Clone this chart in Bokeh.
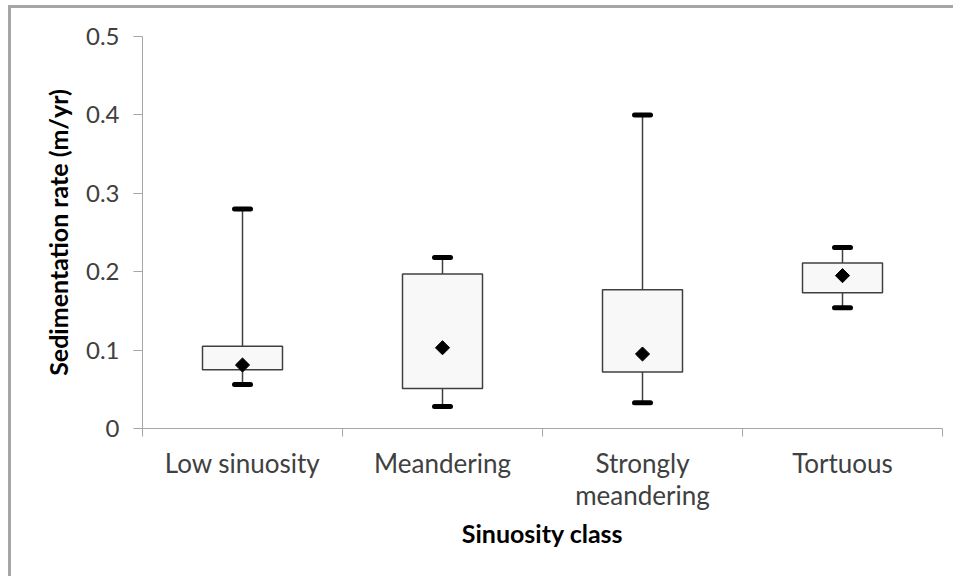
import math
from bokeh.plotting import figure
from bokeh.models import Range1d, FixedTicker, ColumnDataSource
from bokeh.embed import file_html
from bokeh.resources import INLINE

# ---- data ----
categories = ["Low sinuosity", "Meandering", "Strongly\nmeandering", "Tortuous"]
whisker_min = [0.056, 0.028, 0.033, 0.154]
q1 = [0.075, 0.051, 0.072, 0.173]
q3 = [0.105, 0.197, 0.177, 0.211]
whisker_max = [0.280, 0.218, 0.400, 0.231]
means = [0.081, 0.103, 0.095, 0.195]
y_ticks = [0, 0.1, 0.2, 0.3, 0.4, 0.5]
y_tick_labels = ["0", "0.1", "0.2", "0.3", "0.4", "0.5"]

FONT = "Lato"
n = len(categories)
xc = [i + 0.5 for i in range(n)]
half_box = 0.2
half_cap = 0.04

src = ColumnDataSource(dict(
    x=xc, left=[x - half_box for x in xc], right=[x + half_box for x in xc],
    cap_l=[x - half_cap for x in xc], cap_r=[x + half_cap for x in xc],
    lo=whisker_min, q1=q1, q3=q3, hi=whisker_max, mean=means,
))

p = figure(width=945, height=571, output_backend="svg", toolbar_location=None,
           x_range=Range1d(0, n), y_range=Range1d(0, 0.5),
           min_border_left=131, min_border_top=28, min_border_right=14, min_border_bottom=151)
p.styles = {"border-left": "3px solid #a6a6a6", "border-top": "3px solid #a6a6a6",
            "margin-left": "8px", "margin-top": "5px"}
p.outline_line_color = None
p.grid.visible = False
p.background_fill_color = "white"
p.border_fill_color = "white"

# whiskers
p.segment(x0="x", y0="lo", x1="x", y1="q1", source=src, line_color="#404040", line_width=1.5)
p.segment(x0="x", y0="q3", x1="x", y1="hi", source=src, line_color="#404040", line_width=1.5)
# caps
for col in ("lo", "hi"):
    p.segment(x0="cap_l", y0=col, x1="cap_r", y1=col, source=src, line_color="black",
              line_width=5, line_cap="round")
# boxes
p.quad(left="left", right="right", bottom="q1", top="q3", source=src,
       fill_color="#f8f8f8", line_color="#404040", line_width=1.5)
# means
p.scatter(x="x", y="mean", source=src, marker="square", size=10, angle=math.pi / 4,
          fill_color="black", line_color="black")

# y axis
ya = p.yaxis[0]
ya.ticker = FixedTicker(ticks=y_ticks)
ya.major_label_overrides = {t: l for t, l in zip(y_ticks, y_tick_labels)}
ya.axis_line_color = "#a6a6a6"
ya.major_tick_line_color = "#a6a6a6"
ya.major_tick_out = 9
ya.major_tick_in = 0
ya.minor_tick_line_color = None
ya.major_label_text_font = FONT
ya.major_label_text_font_size = "24px"
ya.major_label_text_color = "#404040"
ya.major_label_standoff = 14
ya.axis_label = "Sedimentation rate (m/yr)"
ya.axis_label_text_font = FONT
ya.axis_label_text_font_size = "25px"
ya.axis_label_text_font_style = "bold"
ya.axis_label_text_color = "black"
ya.axis_label_standoff = 10

# x axis
xa = p.xaxis[0]
xa.ticker = FixedTicker(ticks=xc, minor_ticks=list(range(n + 1)))
xa.major_label_overrides = {x: c for x, c in zip(xc, categories)}
xa.axis_line_color = "#a6a6a6"
xa.major_tick_line_color = None
xa.major_tick_out = 0
xa.major_tick_in = 0
xa.minor_tick_line_color = "#a6a6a6"
xa.minor_tick_out = 8
xa.minor_tick_in = 0
xa.major_label_text_font = FONT
xa.major_label_text_font_size = "26px"
xa.major_label_text_line_height = 1.0
xa.major_label_text_color = "#404040"
xa.major_label_standoff = 10
xa.axis_label = "Sinuosity class"
xa.axis_label_text_font = FONT
xa.axis_label_text_font_size = "25px"
xa.axis_label_text_font_style = "bold"
xa.axis_label_text_color = "black"
xa.axis_label_standoff = 4

open("out.html", "w").write(file_html(p, INLINE))
